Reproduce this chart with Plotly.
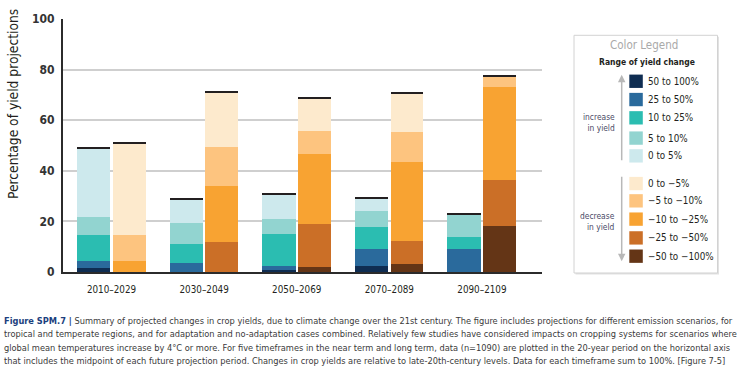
import plotly.graph_objects as go
import numpy as np

# ---------------- data ----------------
periods = ["2010–2029", "2030–2049", "2050–2069", "2070–2089", "2090–2109"]

# increase in yield (stack order bottom -> top)
inc_labels = ["50 to 100%", "25 to 50%", "10 to 25%", "5 to 10%", "0 to 5%"]
inc_50_100 = [1.4, 0.0, 0.9, 2.5, 0.0]
inc_25_50 = [3.0, 3.6, 1.6, 6.7, 9.2]
inc_10_25 = [10.2, 7.5, 12.4, 8.6, 4.7]
inc_5_10 = [7.3, 8.2, 5.9, 6.2, 8.9]
inc_0_5 = [27.0, 9.5, 10.2, 5.2, 0.0]
inc_colors = ["#0f2d52", "#2a6a9c", "#2bbdb1", "#92d4d0", "#cde9ed"]

# decrease in yield (stack order bottom -> top)
dec_labels = ["−50 to −100%", "−25 to −50%", "−10 to −25%", "−5 to −10%", "0 to −5%"]
dec_50_100 = [0.0, 0.0, 1.9, 3.1, 18.2]
dec_25_50 = [0.0, 11.8, 17.2, 9.1, 18.3]
dec_10_25 = [4.4, 22.3, 27.4, 31.3, 36.5]
dec_5_10 = [10.2, 15.5, 9.2, 11.9, 4.6]
dec_0_5 = [36.4, 21.7, 13.1, 15.3, 0.0]
dec_colors = ["#643516", "#cb6f27", "#f8a332", "#fdc47f", "#fdeacd"]

y_ticks = [0, 20, 40, 60, 80, 100]

caption_lines = [
    "<b><span style='color:#1c3f7e'>Figure SPM.7 |</span></b> Summary of projected changes in crop yields, due to climate change over the 21st century. The figure includes projections for different emission scenarios, for",
    "tropical and temperate regions, and for adaptation and no-adaptation cases combined. Relatively few studies have considered impacts on cropping systems for scenarios where",
    "global mean temperatures increase by 4°C or more. For five timeframes in the near term and long term, data (n=1090) are plotted in the 20-year period on the horizontal axis",
    "that includes the midpoint of each future projection period. Changes in crop yields are relative to late-20th-century levels. Data for each timeframe sum to 100%. [Figure 7-5]",
]

# ---------------- layout helpers ----------------
W, H = 740, 382
ML, MR, MT, MB = 63, 198, 16, 110
PW, PH = W - ML - MR, H - MT - MB


def px(x):
    return (x - ML) / PW


def py(y):
    return (H - MB - y) / PH


FONT = "DejaVu Sans Condensed, Liberation Sans, sans-serif"
xpos = np.arange(len(periods))

fig = go.Figure()

inc_series = [inc_50_100, inc_25_50, inc_10_25, inc_5_10, inc_0_5]
dec_series = [dec_50_100, dec_25_50, dec_10_25, dec_5_10, dec_0_5]

INC_OFF, INC_W = -0.372, 0.36
DEC_OFF, DEC_W = 0.013, 0.355


def add_stack(series, colors, labels, off, w):
    base = np.zeros(len(periods))
    for vals, col, lab in zip(series, colors, labels):
        v = np.array(vals, dtype=float)
        fig.add_trace(go.Bar(
            x=xpos, y=v, base=base, offset=off, width=w,
            marker=dict(color=col, line=dict(width=0)),
            name=lab, showlegend=False, hoverinfo="skip"))
        base = base + v
    # dark cap on top of each stacked bar
    fig.add_trace(go.Bar(
        x=xpos, y=[0.8] * len(periods), base=base - 0.4, offset=off, width=w,
        marker=dict(color="#231f20", line=dict(width=0)),
        showlegend=False, hoverinfo="skip"))


add_stack(inc_series, inc_colors, inc_labels, INC_OFF, INC_W)
add_stack(dec_series, dec_colors, dec_labels, DEC_OFF, DEC_W)

fig.update_layout(
    width=W, height=H,
    margin=dict(l=ML, r=MR, t=MT, b=MB, pad=0),
    paper_bgcolor="white", plot_bgcolor="white",
    barmode="overlay", bargap=0,
    showlegend=False,
    font=dict(family=FONT, color="#231f20"),
    xaxis=dict(
        range=[-0.524, -0.524 + PW / 92.6],
        tickvals=list(xpos), ticktext=periods,
        tickfont=dict(size=9.8, color="#231f20", family=FONT),
        showgrid=False, zeroline=False,
        showline=True, linecolor="#2b2b2b", linewidth=2,
        ticks="", ticklabelstandoff=7,
    ),
    yaxis=dict(
        range=[0, 100], tickvals=y_ticks,
        tickfont=dict(size=12, color="#333333", family=FONT, weight="bold"),
        showgrid=True, gridcolor="#cfcfcf", gridwidth=1.5,
        zeroline=False, showline=True, linecolor="#2b2b2b", linewidth=2,
        ticks="", ticklabelstandoff=4,
    ),
)

shapes = []
annotations = []

# y axis title
annotations.append(dict(
    xref="paper", yref="paper", x=px(13), y=py(102), text="Percentage of yield projections",
    textangle=-90, showarrow=False, font=dict(size=13.7, color="#231f20", family=FONT),
    xanchor="center", yanchor="middle"))

# legend box with shadow
LX0, LX1, LY0, LY1 = 574, 717.5, 32.5, 273
shapes.append(dict(type="rect", xref="paper", yref="paper",
                   x0=px(LX0 + 1.5), x1=px(LX1 + 1.5), y0=py(LY0 + 1.5), y1=py(LY1 + 1.5),
                   fillcolor="#e2e2e2", line=dict(width=0), layer="above"))
shapes.append(dict(type="rect", xref="paper", yref="paper",
                   x0=px(LX0), x1=px(LX1), y0=py(LY0), y1=py(LY1),
                   fillcolor="white", line=dict(color="#d2d2d2", width=1), layer="above"))

annotations.append(dict(xref="paper", yref="paper", x=px(643.5), y=py(42.5), text="Color Legend",
                        showarrow=False, font=dict(size=11.5, color="#a9a9a9", family=FONT),
                        xanchor="center", yanchor="middle"))
annotations.append(dict(xref="paper", yref="paper", x=px(646.5), y=py(59.5), text="<b>Range of yield change</b>",
                        showarrow=False, font=dict(size=8.5, color="#231f20", family=FONT),
                        xanchor="center", yanchor="middle"))

legend_inc = list(zip(inc_labels, inc_colors))
legend_dec = list(zip(dec_labels, dec_colors))[::-1]
row_y_inc = [79, 97.5, 116, 136.5, 154.5]
row_y_dec = [182.5, 200, 218.5, 237.5, 256]
SW = 13.5
for (lab, col), yy in list(zip(legend_inc, row_y_inc)) + list(zip(legend_dec, row_y_dec)):
    shapes.append(dict(type="rect", xref="paper", yref="paper",
                       x0=px(629.3), x1=px(629.3 + SW), y0=py(yy - SW / 2), y1=py(yy + SW / 2),
                       fillcolor=col, line=dict(width=0), layer="above"))
    annotations.append(dict(xref="paper", yref="paper", x=px(645.5), y=py(yy), text=lab,
                            showarrow=False, font=dict(size=9.8, color="#231f20", family=FONT),
                            xanchor="left", yanchor="middle"))

# arrows
annotations.append(dict(xref="paper", yref="paper", x=px(621.7), y=py(72.5), ax=0, ay=87,
                        text="", showarrow=True, arrowhead=2, arrowsize=1, arrowwidth=1.5,
                        arrowcolor="#b8b8b8"))
annotations.append(dict(xref="paper", yref="paper", x=px(621.7), y=py(261), ax=0, ay=-86,
                        text="", showarrow=True, arrowhead=2, arrowsize=1, arrowwidth=1.5,
                        arrowcolor="#b8b8b8"))
annotations.append(dict(xref="paper", yref="paper", x=px(617), y=py(120.5), text="increase<br>in yield",
                        showarrow=False, align="right", font=dict(size=8.4, color="#4a4a66", family=FONT),
                        xanchor="right", yanchor="middle"))
annotations.append(dict(xref="paper", yref="paper", x=px(617), y=py(220.5), text="decrease<br>in yield",
                        showarrow=False, align="right", font=dict(size=8.4, color="#4a4a66", family=FONT),
                        xanchor="right", yanchor="middle"))

# caption, one annotation per line for exact line spacing
cap_y = [321, 334.6, 348.2, 361.8]
for line, yy in zip(caption_lines, cap_y):
    annotations.append(dict(xref="paper", yref="paper", x=px(1.5), y=py(yy),
                            text=line, showarrow=False, align="left",
                            font=dict(size=9.2, color="#3a3a3a", family=FONT),
                            xanchor="left", yanchor="middle"))

fig.update_layout(shapes=shapes, annotations=annotations)
fig.write_html("out.html", config={"displayModeBar": False},
               post_script="document.body.style.margin='0';document.body.style.padding='0';")
